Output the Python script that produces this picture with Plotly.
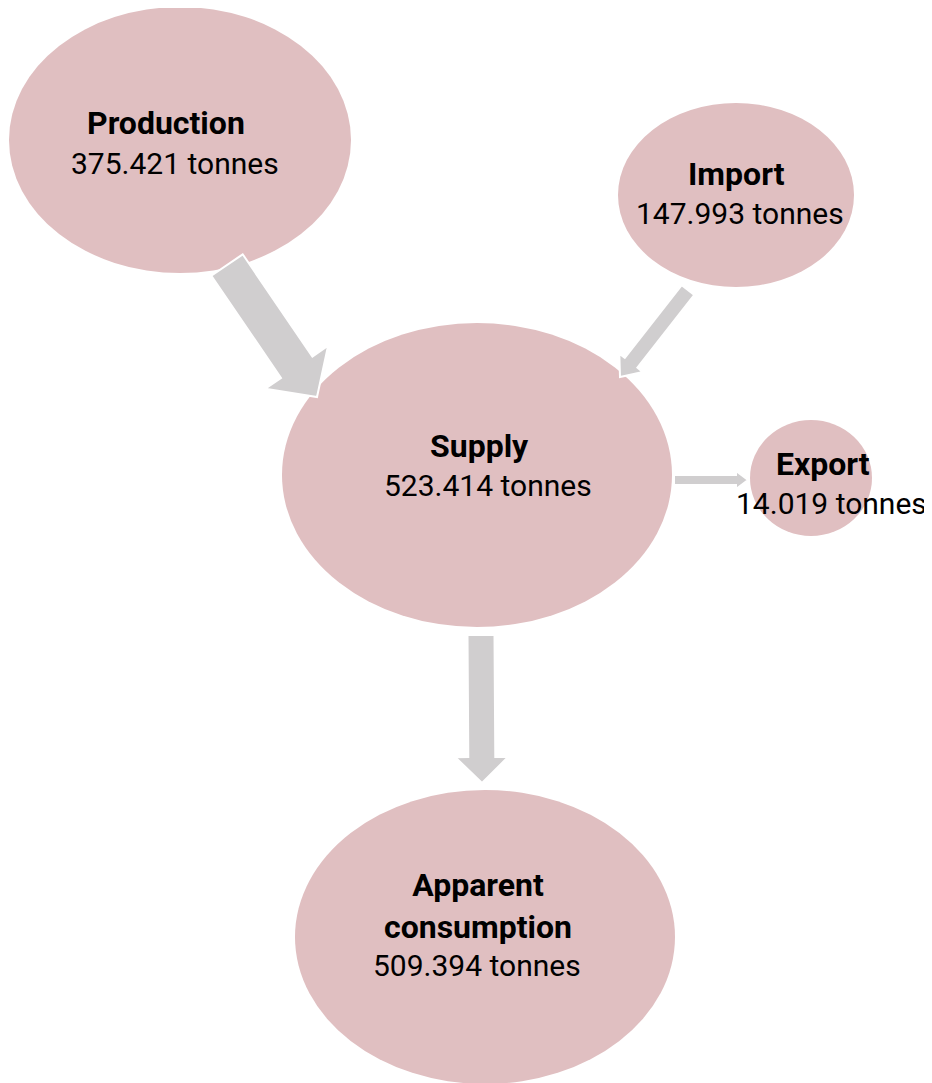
import math
import plotly.graph_objects as go

# ---- data ----
nodes = ["Production", "Import", "Supply", "Export", "Apparent<br>consumption"]
values = ["375.421", "147.993", "523.414", "14.019", "509.394"]
unit = "tonnes"
flows = [("Production", "Supply"), ("Import", "Supply"), ("Supply", "Export"), ("Supply", "Apparent<br>consumption")]

# ---- layout (pixel space) ----
W, H = 932, 1083
OFF = 8  # page body margin
ellipse = {  # cx, cy, rx, ry
    "Production": (180, 140, 171, 133),
    "Import": (736, 195, 118, 92),
    "Supply": (477, 475, 195, 152),
    "Export": (811, 478, 61, 58),
    "Apparent<br>consumption": (485, 937, 190, 147),
}
label_pos = {  # label x,y ; value x,y
    "Production": ((166, 123), (175, 163)),
    "Import": ((736, 174), (740, 213)),
    "Supply": ((479, 446), (488, 485)),
    "Export": ((823, 464), (831, 503)),
    "Apparent<br>consumption": ((478, 906), (477, 965)),
}
arrow_geom = {  # tail (x,y), tip (x,y), shaft width, head width, head length
    ("Production", "Supply"): ((227, 265), (317, 397), 38, 76, 36),
    ("Import", "Supply"): ((688, 290), (620, 377), 16, 30, 18),
    ("Supply", "Export"): ((674, 480), (748, 480), 10, 18, 12),
    ("Supply", "Apparent<br>consumption"): ((481, 635), (482, 783), 27, 53, 26),
}

FILL = "#E0BFC1"
GREY = "#D0CECF"
FONT = "Roboto"

fig = go.Figure()
shapes = []
for n in nodes:
    cx, cy, rx, ry = ellipse[n]
    shapes.append(dict(type="circle", xref="x", yref="y", x0=cx - rx, x1=cx + rx,
                       y0=cy - ry, y1=cy + ry, fillcolor=FILL, line=dict(width=0), layer="below"))

def arrow_path(tail, tip, sw, hw, hl):
    dx, dy = tip[0] - tail[0], tip[1] - tail[1]
    L = math.hypot(dx, dy)
    ux, uy = dx / L, dy / L
    px, py = -uy, ux
    bx, by = tip[0] - ux * hl, tip[1] - uy * hl
    pts = [
        (tail[0] + px * sw / 2, tail[1] + py * sw / 2),
        (bx + px * sw / 2, by + py * sw / 2),
        (bx + px * hw / 2, by + py * hw / 2),
        tip,
        (bx - px * hw / 2, by - py * hw / 2),
        (bx - px * sw / 2, by - py * sw / 2),
        (tail[0] - px * sw / 2, tail[1] - py * sw / 2),
    ]
    return "M " + " L ".join(f"{x:.1f},{y:.1f}" for x, y in pts) + " Z"

for f in flows:
    tail, tip, sw, hw, hl = arrow_geom[f]
    shapes.append(dict(type="path", xref="x", yref="y", path=arrow_path(tail, tip, sw, hw, hl),
                       fillcolor=GREY, line=dict(color="white", width=2), layer="above"))

annotations = []
for n, v in zip(nodes, values):
    (lx, ly), (vx, vy) = label_pos[n]
    annotations.append(dict(x=lx, y=ly, xref="x", yref="y", text=f"<b>{n}</b>", showarrow=False,
                            font=dict(family=FONT, size=32, color="black", weight=900), align="center"))
    annotations.append(dict(x=vx, y=vy, xref="x", yref="y", text=f"{v} {unit}", showarrow=False,
                            font=dict(family=FONT, size=30, color="black"), align="center"))

# invisible trace to anchor axes
fig.add_trace(go.Scatter(x=[0, W], y=[0, H], mode="markers", marker=dict(opacity=0), hoverinfo="skip", showlegend=False))

fig.update_layout(
    width=W, height=H, margin=dict(l=0, r=0, t=0, b=0),
    paper_bgcolor="white", plot_bgcolor="white",
    shapes=shapes, annotations=annotations,
    xaxis=dict(range=[OFF, W + OFF], visible=False, fixedrange=True),
    yaxis=dict(range=[H + OFF, OFF], visible=False, fixedrange=True),
)
fig.write_html("out.html")
